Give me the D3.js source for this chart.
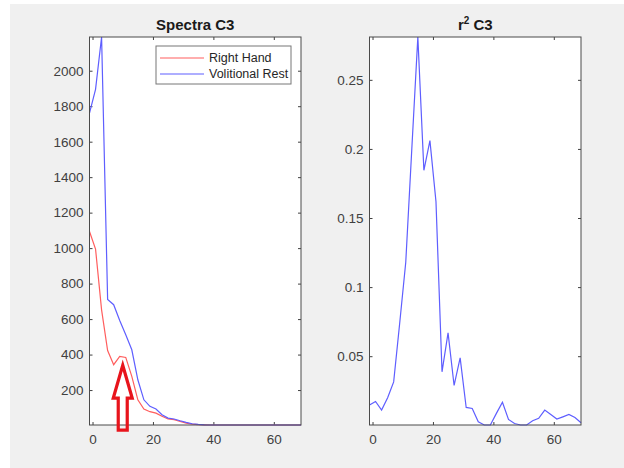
<!DOCTYPE html>
<html>
<head>
<meta charset="utf-8">
<script src="https://cdn.jsdelivr.net/npm/d3@7"></script>
<style>
  html, body { margin: 0; padding: 0; background: #fff; }
  svg { display: block; font-family: Arial, "Liberation Sans", Helvetica, sans-serif; }
  .tick text { fill: #404040; font-size: 13.5px; }
  .tick line { stroke: #404040; }
</style>
</head>
<body>
<script>
// frequency bins (Hz)
const freqs = [-1, 1, 3, 5, 7, 9, 11, 13, 15, 17, 19, 21, 23, 25, 27, 29, 31, 33, 35,
  37, 39, 41, 43, 45, 47, 49, 51, 53, 55, 57, 59, 61, 63, 65, 67, 69];

// spectra C3
const rightHand = [1094, 995, 652, 423, 343, 390, 384, 277, 145, 93, 78, 70, 52, 37, 33, 23, 14, 8, 5,
  4, 3, 3, 3, 3, 3, 3, 3, 3, 3, 3, 3, 3, 3, 3, 3, 3];
const volitionalRest = [1761, 1895, 2190, 710, 681, 592, 512, 427, 258, 145, 108, 93, 61, 42, 37, 27, 18, 10, 6,
  4, 3, 3, 3, 3, 3, 3, 3, 3, 3, 3, 3, 3, 3, 3, 3, 3];

// r^2 C3
const rSquared = [0.0146, 0.0172, 0.011, 0.020, 0.0314, 0.074, 0.118, 0.200, 0.281, 0.1845, 0.206, 0.162,
  0.0387, 0.0669, 0.0288, 0.0488, 0.0129, 0.0122, 0.0025, 0.0002, 0.0002, 0.0086, 0.0167, 0.0042,
  0.0013, 0.0002, 0.0002, 0.0033, 0.005, 0.011, 0.0078, 0.0045, 0.0061, 0.0078, 0.0056, 0.0018];

const xTicks = [0, 20, 40, 60];
const spectraTicks = [200, 400, 600, 800, 1000, 1200, 1400, 1600, 1800, 2000];
const r2Ticks = [0.05, 0.1, 0.15, 0.2, 0.25];
const legendLabels = ['Right Hand', 'Volitional Rest'];

const red = '#ff5e5e';
const blue = '#5e5eff';
const width = 624, height = 468;
const plotTop = 37, plotBottom = 425;

const svg = d3.select('body').append('svg')
  .attr('width', width)
  .attr('height', height);

svg.append('rect')
  .attr('x', 10).attr('y', 4)
  .attr('width', width - 10).attr('height', height - 4)
  .attr('fill', '#f0f0f0');

function drawAxes(left, right, yDomain, yTicks, yFormat) {
  const x = d3.scaleLinear().domain([-1, 69]).range([left, right]);
  const y = d3.scaleLinear().domain(yDomain).range([plotBottom, plotTop]);
  const g = svg.append('g');

  g.append('rect')
    .attr('x', left).attr('y', plotTop)
    .attr('width', right - left).attr('height', plotBottom - plotTop)
    .attr('fill', '#fff');

  g.append('g')
    .attr('transform', `translate(0,${plotBottom})`)
    .call(d3.axisBottom(x).tickValues(xTicks).tickSize(-3).tickSizeOuter(0).tickPadding(9))
    .call(a => a.select('.domain').remove());
  g.append('g')
    .attr('transform', `translate(0,${plotTop})`)
    .call(d3.axisTop(x).tickValues(xTicks).tickSize(-3).tickSizeOuter(0).tickFormat(''))
    .call(a => a.select('.domain').remove());
  g.append('g')
    .attr('transform', `translate(${left},0)`)
    .call(d3.axisLeft(y).tickValues(yTicks).tickSize(-3).tickSizeOuter(0).tickPadding(6).tickFormat(yFormat))
    .call(a => a.select('.domain').remove());
  g.append('g')
    .attr('transform', `translate(${right},0)`)
    .call(d3.axisRight(y).tickValues(yTicks).tickSize(-3).tickSizeOuter(0).tickFormat(''))
    .call(a => a.select('.domain').remove());

  return { g, x, y };
}

function drawLine(ax, values, color) {
  const line = d3.line()
    .x((d, i) => ax.x(freqs[i]))
    .y(d => ax.y(d));
  ax.g.append('path')
    .datum(values)
    .attr('fill', 'none')
    .attr('stroke', color)
    .attr('stroke-width', 1.2)
    .attr('d', line);
}

function drawBox(left, right) {
  svg.append('rect')
    .attr('x', left).attr('y', plotTop)
    .attr('width', right - left).attr('height', plotBottom - plotTop)
    .attr('fill', 'none')
    .attr('stroke', '#4a4a4a')
    .attr('stroke-width', 1);
}

// ---- left: spectra
const spectraExtent = d3.extent(rightHand.concat(volitionalRest));
const axL = drawAxes(89.5, 301, spectraExtent, spectraTicks, d3.format('d'));
drawLine(axL, rightHand, red);
drawLine(axL, volitionalRest, blue);
drawBox(89.5, 301);

svg.append('text')
  .attr('x', (89.5 + 301) / 2).attr('y', 30)
  .attr('text-anchor', 'middle')
  .attr('font-size', 15).attr('font-weight', 'bold')
  .attr('fill', '#1a1a1a')
  .text('Spectra C3');

// legend
const legend = svg.append('g').attr('transform', 'translate(156,46)');
legend.append('rect')
  .attr('width', 135).attr('height', 38)
  .attr('fill', '#fff')
  .attr('stroke', '#777')
  .attr('stroke-width', 1);
const item = legend.selectAll('.item')
  .data(legendLabels)
  .join('g')
    .attr('class', 'item')
    .attr('transform', (d, i) => `translate(0,${12 + i * 16})`);
item.append('line')
  .attr('x1', 4).attr('x2', 48)
  .attr('stroke', (d, i) => i === 0 ? red : blue)
  .attr('stroke-width', 1.2);
item.append('text')
  .attr('x', 53).attr('dy', '0.35em')
  .attr('font-size', 12.5)
  .attr('fill', '#262626')
  .text(d => d);

// red arrow annotation pointing at the mu-band bump
const tipX = axL.x(10), tipY = axL.y(340);
const arrowPts = [
  [tipX, tipY],
  [tipX + 9.5, tipY + 33],
  [tipX + 4.5, tipY + 33],
  [tipX + 4.5, tipY + 65],
  [tipX - 4.5, tipY + 65],
  [tipX - 4.5, tipY + 33],
  [tipX - 9.5, tipY + 33]
];
svg.append('path')
  .attr('d', d3.line()(arrowPts) + 'Z')
  .attr('fill', 'none')
  .attr('stroke', '#e8141c')
  .attr('stroke-width', 3.2)
  .attr('stroke-linejoin', 'miter');

// ---- right: r^2
const r2Extent = d3.extent(rSquared);
const axR = drawAxes(369.5, 581, r2Extent, r2Ticks, d => d3.format('')(+d.toFixed(2)));
drawLine(axR, rSquared, blue);
drawBox(369.5, 581);

const r2Title = svg.append('text')
  .attr('x', (369.5 + 581) / 2).attr('y', 30)
  .attr('text-anchor', 'middle')
  .attr('font-size', 15).attr('font-weight', 'bold')
  .attr('fill', '#1a1a1a');
r2Title.append('tspan').text('r');
r2Title.append('tspan').attr('font-size', 10).attr('dy', -6).text('2');
r2Title.append('tspan').attr('dy', 6).text(' C3');
</script>
</body>
</html>
